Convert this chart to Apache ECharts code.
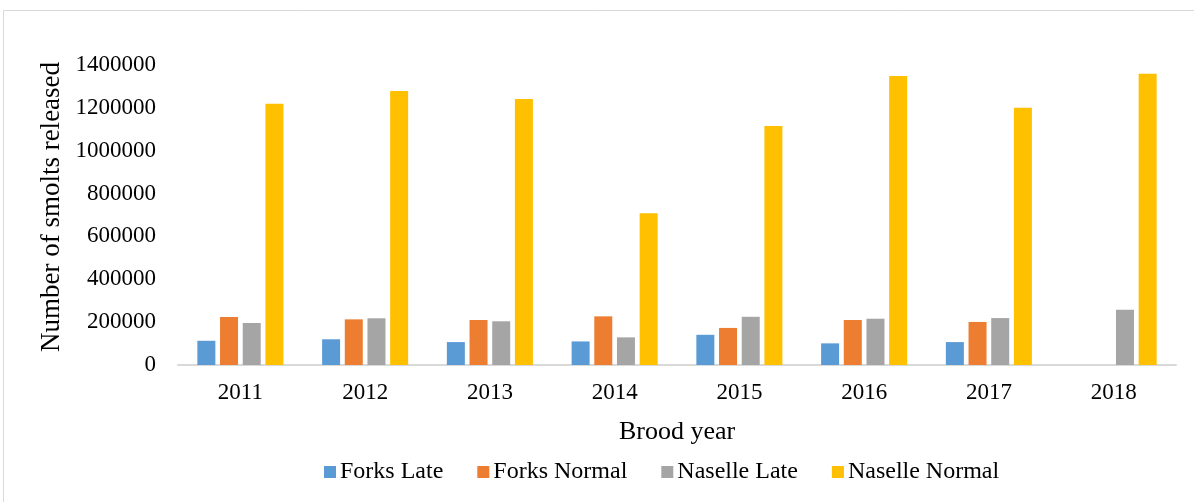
<!DOCTYPE html>
<html>
<head>
<meta charset="utf-8">
<script src="https://cdn.jsdelivr.net/npm/echarts@6/dist/echarts.min.js"></script>
<style>
html,body{margin:0;padding:0;background:#fff;}
#chart{width:1194px;height:502px;}
</style>
</head>
<body>
<div id="chart"></div>
<script>
const categories = ['2011','2012','2013','2014','2015','2016','2017','2018'];
const forksLate = [113000,120000,107000,110000,141000,101000,107000,null];
const forksNormal = [224000,213000,210000,227000,173000,210000,201000,null];
const naselleLate = [196000,218000,204000,129000,225000,216000,219000,258000];
const naselleNormal = [1219000,1279000,1241000,708000,1115000,1349000,1201000,1359000];
const seriesNames = ['Forks Late','Forks Normal','Naselle Late','Naselle Normal'];
const colors = ['#5B9BD5','#ED7D31','#A5A5A5','#FFC000'];
const yTitle = 'Number of smolts released';

const font = 'Liberation Serif';
const chart = echarts.init(document.getElementById('chart'));
const dataSets = [forksLate, forksNormal, naselleLate, naselleNormal];
chart.setOption({
  animation: false,
  color: colors,
  graphic: [{
    type: 'rect', shape: {x: 3.5, y: 10.5, width: 1300, height: 600},
    style: {fill: 'none', stroke: '#d9d9d9', lineWidth: 1}, silent: true
  }, {
    type: 'text', x: 52, y: 207, rotation: Math.PI / 2, silent: true,
    style: {text: yTitle, fontFamily: font, fontSize: 27, fill: '#000',
      textAlign: 'center', textVerticalAlign: 'middle'}
  }],
  grid: {left: 178, right: 18, top: 65, bottom: 137},
  legend: {
    data: seriesNames, left: 319, top: 455,
    itemWidth: 12, itemHeight: 12, itemGap: 34,
    icon: 'rect',
    textStyle: {fontFamily: font, fontSize: 24, color: '#000', padding: [0,0,0,-1]}
  },
  xAxis: {
    type: 'category', data: categories,
    name: 'Brood year', nameLocation: 'middle', nameGap: 54,
    nameTextStyle: {fontFamily: font, fontSize: 26, color: '#000'},
    axisLine: {lineStyle: {color: '#d9d9d9', width: 2}},
    axisTick: {show: false},
    axisLabel: {fontFamily: font, fontSize: 23, color: '#000', margin: 16}
  },
  yAxis: {
    type: 'value', min: 0, max: 1400000, interval: 200000,
    axisLine: {show: false}, axisTick: {show: false},
    splitLine: {show: false},
    axisLabel: {fontFamily: font, fontSize: 23, color: '#000', margin: 22,
      formatter: v => String(v)}
  },
  series: seriesNames.map((n, i) => ({
    name: n, type: 'bar', data: dataSets[i],
    barWidth: 18, barGap: '26%'
  }))
});
</script>
</body>
</html>
